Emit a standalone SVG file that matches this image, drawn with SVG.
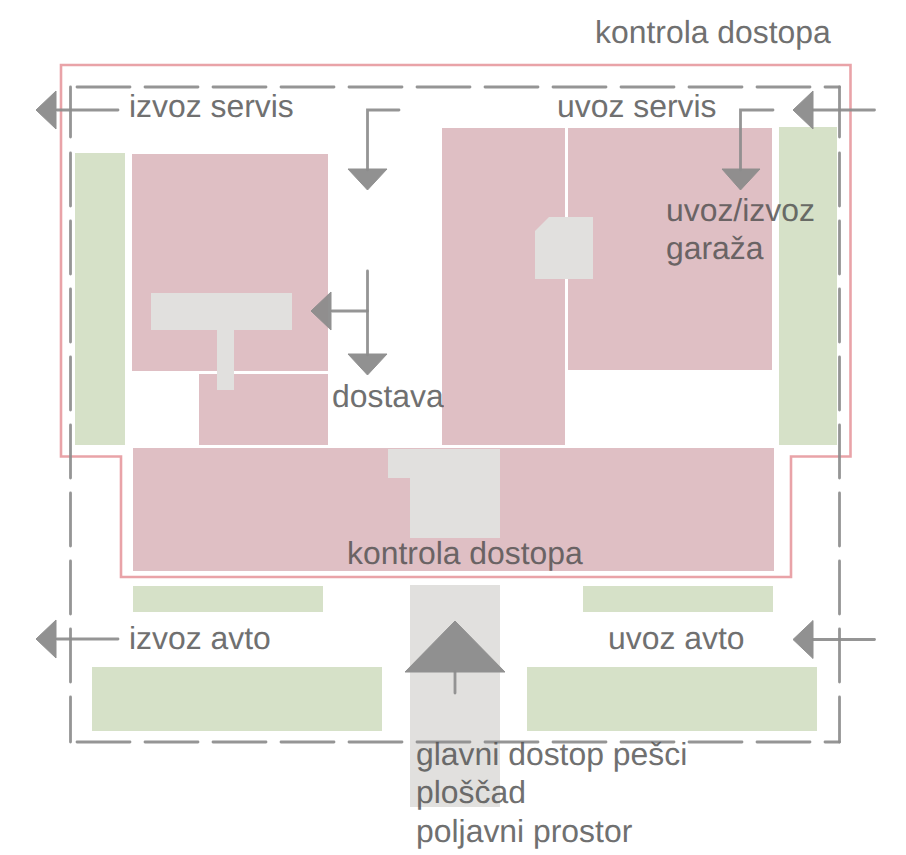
<svg xmlns="http://www.w3.org/2000/svg" width="906" height="855" viewBox="0 0 906 855">
<style>
.p{fill:#dfbfc4}.g{fill:#d6e1c8}.y{fill:#e1e0de}
.c{fill:none;stroke:#8c8c8c;stroke-width:2.8;stroke-linecap:round;stroke-linejoin:miter;opacity:.92}
.d{fill:none;stroke:#8c8c8c;stroke-width:2.8;stroke-linecap:round;stroke-dasharray:53 15;opacity:.92}
.a{fill:#8c8c8c;stroke:#8c8c8c;stroke-width:1;stroke-linejoin:round;opacity:.95}
.r{fill:none;stroke:#e89ea3;stroke-width:2.6;opacity:.95}
text{font-family:"Liberation Sans",Arial,sans-serif;font-size:31.9px;fill:#4d4d4d;opacity:.8;text-rendering:geometricPrecision}
</style>
<rect width="906" height="855" fill="#fff"/>
<g id="areas">
<rect id="green-left" class="g" x="75" y="153" width="50" height="292"/>
<rect id="green-right" class="g" x="779" y="127" width="58" height="318"/>
<rect id="block-top-left" class="p" x="132" y="154" width="196" height="217"/>
<rect id="block-small" class="p" x="199" y="374" width="129" height="71"/>
<rect id="block-middle" class="p" x="442" y="128" width="123" height="317"/>
<rect id="block-right" class="p" x="568" y="128" width="204" height="242"/>
<rect id="block-bottom" class="p" x="133" y="448" width="641" height="123"/>
<path id="core-t" class="y" d="M151 293H292V330H234V390H217V330H151Z"/>
<path id="core-mid" class="y" d="M535 231L549 217H593V279H535Z"/>
<path id="core-lobby" class="y" d="M388 449H500V538H410V478H388Z"/>
<rect id="plaza" class="y" x="410" y="585" width="90" height="222"/>
<rect id="green-s1" class="g" x="133" y="586" width="190" height="26"/>
<rect id="green-s2" class="g" x="583" y="586" width="190" height="26"/>
<rect id="green-s3" class="g" x="92" y="667" width="290" height="64"/>
<rect id="green-s4" class="g" x="527" y="667" width="290" height="64"/>
</g>
<g id="connectors">
<path id="access-boundary" class="r" d="M61 65H850.500V456.500H791V577H121V456.500H61Z"/>
<path class="d" d="M77 87H839.500"/>
<path class="d" d="M77 742H839.500"/>
<path class="d" d="M70.500 153V742"/>
<path class="c" d="M70.500 87V137"/>
<path class="d" d="M839.500 153V742"/>
<path class="c" d="M839.500 87V137"/>
<path class="c" d="M118 110H57"/><path class="a" d="M36 110L56 91V129Z"/>
<path class="c" d="M399 110H367.500V170"/><path class="a" d="M367.500 190L348 169H387Z"/>
<path class="c" d="M367.500 271V355"/><path class="a" d="M367.500 375L348 354H387Z"/>
<path class="c" d="M367.500 311H332"/><path class="a" d="M311 311L331 292V330Z"/>
<path class="c" d="M874.500 110H813"/><path class="a" d="M793 110L813 91V129Z"/>
<path class="c" d="M773 110H740.500V170"/><path class="a" d="M740.500 190L722 169H760Z"/>
<path class="c" d="M118 639H57"/><path class="a" d="M36 639L56 620V658Z"/>
<path class="c" d="M874.500 639.500H813"/><path class="a" d="M793 639.500L813 620.500V658.500Z"/>
<path class="c" d="M455 693V672"/><path class="a" d="M455 621L505 672H405Z"/>
</g>
<g id="labels">
<text x="595" y="43">kontrola dostopa</text>
<text x="129" y="117">izvoz servis</text>
<text x="557" y="117">uvoz servis</text>
<text x="666" y="221">uvoz/izvoz</text>
<text x="666" y="259">garaža</text>
<text x="332" y="407">dostava</text>
<text x="347" y="564">kontrola dostopa</text>
<text x="129" y="649">izvoz avto</text>
<text x="608" y="649">uvoz avto</text>
<text x="416" y="765">glavni dostop pešci</text>
<text x="416" y="803">ploščad</text>
<text x="416" y="842">poljavni prostor</text>
</g>
</svg>
